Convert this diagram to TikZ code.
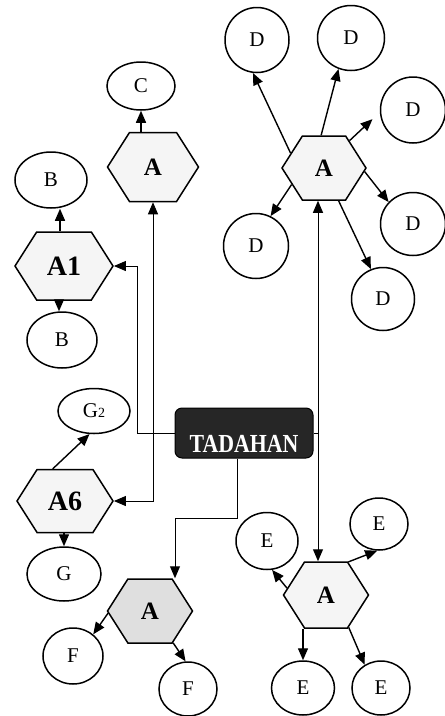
\documentclass[tikz,border=0pt]{standalone}
\usepackage{fontspec}
\setmainfont{Liberation Serif}
\usetikzlibrary{shapes.symbols,shapes.geometric,arrows.meta}
\begin{document}
\begin{tikzpicture}[x=1pt,y=-1pt,
  hexa/.style={signal, signal to=east and west, signal pointer angle=115,
    draw, line width=1.5pt, fill=gray!8, inner sep=0pt,
    minimum width=90pt, minimum height=66pt,
    font=\fontsize{25}{25}\selectfont\bfseries},
  bighex/.style={hexa, font=\fontsize{28}{28}\selectfont\bfseries},
  circ/.style={ellipse, draw, line width=1.5pt, fill=white, inner sep=0pt,
    font=\fontsize{21}{21}\selectfont},
  arr/.style={-{Triangle[length=12pt,width=10pt]}, line width=1.4pt},
  link/.style={line width=1pt},
  tbox/.style={draw=black, fill=black!85, rounded corners=7pt, text=white, line width=1pt,
    font=\fontsize{26}{26}\selectfont\bfseries, minimum width=138pt,
    text height=42pt, text depth=4pt, inner ysep=2pt, inner xsep=0pt}
]
\useasboundingbox (0,0) rectangle (445,716);
% left column
\node[circ, minimum width=68, minimum height=48] (C) at (141,86) {C};
\node[hexa, minimum width=91, minimum height=69] (At) at (153,167) {A};
\node[circ, minimum width=72, minimum height=56] (Bt) at (51,180) {B};
\node[bighex, minimum width=98, minimum height=68] (A1) at (64,266) {A1};
\node[circ, minimum width=70, minimum height=56] (Bb) at (62,340) {B};
\node[circ, minimum width=72, minimum height=45] (G2) at (94,411) {G{\fontsize{14}{14}\selectfont 2}};
\node[bighex, minimum width=96, minimum height=63] (A6) at (65,501) {A6};
\node[circ, minimum width=74, minimum height=54] (G) at (64,574) {G};
\node[hexa, fill=gray!25, minimum width=85, minimum height=64] (AF) at (150,611) {A};
\node[circ, minimum width=60, minimum height=56] (Fl) at (73,656) {F};
\node[circ, minimum width=58, minimum height=54] (Fr) at (188,689) {F};
% centre
\node[tbox] (T) at (244,433) {\scalebox{0.84}[1]{TADAHAN}};
% D cluster
\node[hexa, minimum width=84, minimum height=64] (AD) at (324,168) {A};
\node[circ, minimum width=64, minimum height=65] (D1) at (257,40) {D};
\node[circ, minimum width=67, minimum height=65] (D2) at (351,38) {D};
\node[circ, minimum width=65, minimum height=66] (D3) at (413,110) {D};
\node[circ, minimum width=65, minimum height=65] (D4) at (256,246) {D};
\node[circ, minimum width=65, minimum height=63] (D5) at (413,224) {D};
\node[circ, minimum width=63, minimum height=63] (D6) at (383,299) {D};
% E cluster
\node[hexa, minimum width=85, minimum height=66] (AE) at (326,595) {A};
\node[circ, minimum width=62, minimum height=57] (E1) at (267,541) {E};
\node[circ, minimum width=58, minimum height=52] (E2) at (379,524) {E};
\node[circ, minimum width=63, minimum height=54] (E3) at (303,688) {E};
\node[circ, minimum width=58, minimum height=54] (E4) at (381,688) {E};

% trunk connectors from TADAHAN
\coordinate (kL) at (137,433);
\coordinate (jL) at (153,433);
\coordinate (jR) at (318,433);
\coordinate (fk) at (237,518);
\draw[link] (T.west) -- (kL);
\draw[arr, link] (kL) |- (A1.east);
\draw[arr, link] (jL) -- (At.south);
\draw[arr, link] (jL) |- (A6.east);
\draw[link] (T.east) -- (jR);
\draw[arr, link] (jR) -- (jR |- AD.south);
\draw[arr, link] (jR) -- (jR |- AE.north);
\draw[arr, link] (fk |- T.south) -- (fk) -| ([xshift=25pt]AF.north);

% short arrows
\draw[arr] (C.south |- At.north) -- (C.south);
\draw[arr] ([xshift=-4pt]A1.north) -- ([xshift=-4pt]A1.north |- Bt.south);
\draw[arr] ([xshift=-5pt]A1.south) -- ([xshift=-5pt]A1.south |- Bb.north);
\draw[arr] (A6.111) -- (G2.259);
\draw[arr] (G.north |- A6.south) -- (G.north);
\draw[arr] (AF.183) -- (Fl.47);
\draw[arr] (AF.306) -- (Fr.95);
\draw[arr] (AD.156) -- (D1.263);
\draw[arr] (AD.95) -- (D2.248);
\draw[arr, shorten >=10pt] (AD.47) -- (D3.184);
\draw[arr] (AD.-5) -- (D5.138);
\draw[arr] (AD.294) -- (D6.112);
\draw[arr] (AD.207) -- (D4.64);
\draw[arr] (AE.170) -- (E1.280);
\draw[arr] (AE.56) -- (E2.266);
\draw[arr] (E3.north |- AE.south) -- (E3.north);
\draw[arr] (AE.305) -- (E4.125);
\end{tikzpicture}
\end{document}
